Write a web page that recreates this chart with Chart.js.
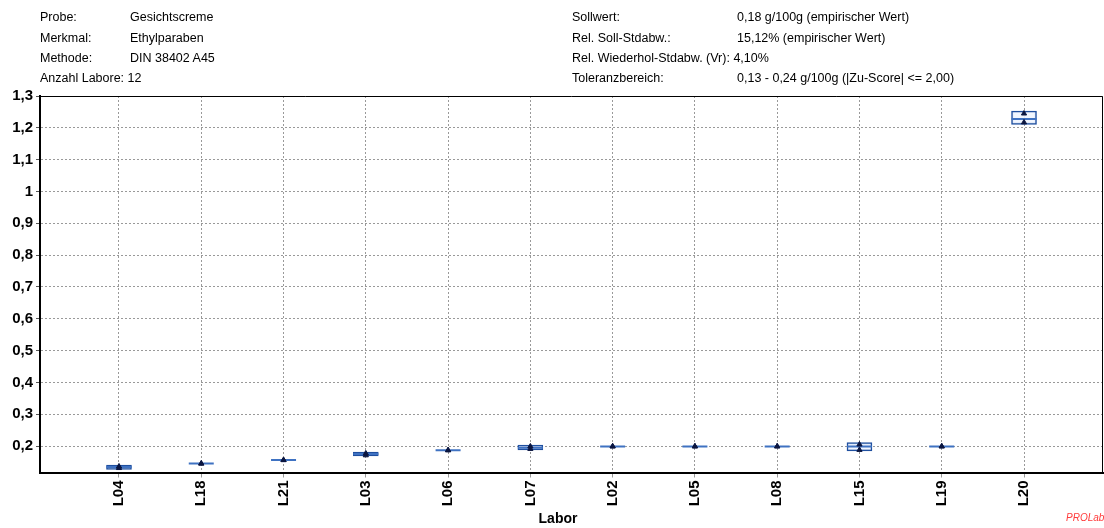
<!DOCTYPE html>
<html>
<head>
<meta charset="utf-8">
<title>Ethylparaben – Laborvergleich</title>
<script src="https://cdn.jsdelivr.net/npm/chart.js@4.4.1/dist/chart.umd.min.js"></script>
<style>
  html, body { margin: 0; padding: 0; background: #fff; }
  #wrap { position: relative; width: 1104px; height: 528px; overflow: hidden; }
  #chart { position: absolute; left: 0; top: 0; }
  .info { position: absolute; font: 12.5px "Liberation Sans", Arial, sans-serif; color: #000; white-space: nowrap; line-height: 14px; }
  .axis-title { position: absolute; left: 508px; width: 100px; top: 510px; text-align: center; font: bold 14px "Liberation Sans", Arial, sans-serif; color: #000; line-height: 17px; }
  .brand { position: absolute; left: 1066px; top: 512px; font: italic 10px "Liberation Sans", Arial, sans-serif; color: #ff3b3b; }
</style>
</head>
<body>
<div id="wrap">
  <canvas id="chart" width="1104" height="528"></canvas>

  <div class="info" style="left:40px;top:10px">Probe:</div>
  <div class="info" style="left:130px;top:10px">Gesichtscreme</div>
  <div class="info" style="left:40px;top:30.5px">Merkmal:</div>
  <div class="info" style="left:130px;top:30.5px">Ethylparaben</div>
  <div class="info" style="left:40px;top:51px">Methode:</div>
  <div class="info" style="left:130px;top:51px">DIN 38402 A45</div>
  <div class="info" style="left:40px;top:71px">Anzahl Labore: 12</div>

  <div class="info" style="left:572px;top:10px">Sollwert:</div>
  <div class="info" style="left:737px;top:10px">0,18 g/100g (empirischer Wert)</div>
  <div class="info" style="left:572px;top:30.5px">Rel. Soll-Stdabw.:</div>
  <div class="info" style="left:737px;top:30.5px">15,12% (empirischer Wert)</div>
  <div class="info" style="left:572px;top:51px">Rel. Wiederhol-Stdabw. (Vr): 4,10%</div>
  <div class="info" style="left:572px;top:71px">Toleranzbereich:</div>
  <div class="info" style="left:737px;top:71px">0,13 - 0,24 g/100g (|Zu-Score| &lt;= 2,00)</div>

  <div class="axis-title">Labor</div>
  <div class="brand">PROLab</div>
</div>

<script>
// Laboratories in plotted order
const labs = ['L04', 'L18', 'L21', 'L03', 'L06', 'L07', 'L02', 'L05', 'L08', 'L15', 'L19', 'L20'];

// Box extent per laboratory (g/100g)
const boxLow  = [0.127, 0.145, 0.156, 0.169, 0.187, 0.188, 0.199, 0.199, 0.199, 0.185, 0.199, 1.211];
const boxHigh = [0.140, 0.145, 0.156, 0.181, 0.187, 0.203, 0.199, 0.199, 0.199, 0.211, 0.199, 1.253];
const median  = [0.134, 0.145, 0.156, 0.175, 0.187, 0.195, 0.199, 0.199, 0.199, 0.199, 0.199, 1.228];

// Individual replicate results (g/100g)
const rep1 = [0.136, 0.145, 0.156, 0.177, 0.187, 0.199, 0.199, 0.199, 0.199, 0.205, 0.199, 1.245];
const rep2 = [0.131, 0.145, 0.156, 0.171, 0.187, 0.191, 0.199, 0.199, 0.199, 0.188, 0.199, 1.217];

// Value axis tick labels
const yTicks = [0.2, 0.3, 0.4, 0.5, 0.6, 0.7, 0.8, 0.9, 1.0, 1.1, 1.2, 1.3];

const pos = labs.map((_, i) => i + 1);
const fmt = v => String(+v.toFixed(2)).replace('.', ',');

// thin frame along the top and right of the plot area
const framePlugin = {
  id: 'frame',
  afterDraw(chart) {
    const a = chart.chartArea, ctx = chart.ctx;
    ctx.save();
    ctx.strokeStyle = '#000';
    ctx.lineWidth = 1;
    ctx.beginPath();
    ctx.moveTo(a.left, a.top + 0.5);
    ctx.lineTo(a.right - 0.5, a.top + 0.5);
    ctx.lineTo(a.right - 0.5, a.bottom);
    ctx.stroke();
    ctx.restore();
  }
};

new Chart(document.getElementById('chart'), {
  type: 'bar',
  data: {
    datasets: [
      {
        type: 'bar',
        label: 'Box',
        data: pos.map((x, i) => ({ x, y: [boxLow[i], boxHigh[i]] })),
        backgroundColor: 'rgba(240,245,255,0.9)',
        borderColor: '#1f4f9f',
        borderWidth: 1.5,
        borderSkipped: false,
        barThickness: 25,
        order: 3
      },
      {
        type: 'line',
        label: 'Median',
        data: pos.map((x, i) => ({ x, y: median[i] })),
        showLine: false,
        pointStyle: 'line',
        pointRadius: 12.5,
        pointBorderWidth: 2,
        pointBorderColor: '#3f72c2',
        pointBackgroundColor: '#3f72c2',
        order: 2
      },
      {
        type: 'line',
        label: 'Einzelwerte',
        data: pos.flatMap((x, i) => [{ x, y: rep1[i] }, { x, y: rep2[i] }]),
        showLine: false,
        pointStyle: 'triangle',
        pointRadius: 3,
        pointBorderWidth: 1,
        pointBorderColor: '#0b1640',
        pointBackgroundColor: '#0b1640',
        order: 1
      }
    ]
  },
  options: {
    responsive: false,
    animation: false,
    events: [],
    layout: { autoPadding: false, padding: { top: 96, right: 1, left: 0, bottom: 0 } },
    plugins: {
      legend: { display: false },
      tooltip: { enabled: false }
    },
    scales: {
      x: {
        type: 'linear',
        offset: false,
        min: 0.04,
        max: 12.96,
        afterBuildTicks: s => { s.ticks = pos.map(v => ({ value: v })); },
        afterFit: s => { s.height = 55.5; s.paddingLeft = 0; s.paddingRight = 0; },
        ticks: {
          autoSkip: false,
          minRotation: 90,
          maxRotation: 90,
          padding: 3,
          color: '#000',
          font: { family: '"Liberation Sans", Arial, sans-serif', size: 15, weight: 'bold' },
          callback: v => labs[v - 1]
        },
        grid: { offset: false, color: '#999', lineWidth: 1, tickLength: 5, tickColor: '#999' },
        border: { display: true, color: '#000', width: 2, dash: [2, 2] }
      },
      y: {
        type: 'linear',
        min: 0.117,
        max: 1.3,
        afterBuildTicks: s => { s.ticks = yTicks.map(v => ({ value: v })); },
        afterFit: s => { s.width = 40; s.paddingTop = 0; s.paddingBottom = 0; },
        ticks: {
          padding: 3,
          color: '#000',
          font: { family: '"Liberation Sans", Arial, sans-serif', size: 15, weight: 'bold' },
          callback: v => fmt(v)
        },
        grid: { color: '#999', lineWidth: 1, tickLength: 4, tickColor: '#555' },
        border: { display: true, color: '#000', width: 2, dash: [2, 2] }
      }
    }
  },
  plugins: [framePlugin]
});
</script>
</body>
</html>
